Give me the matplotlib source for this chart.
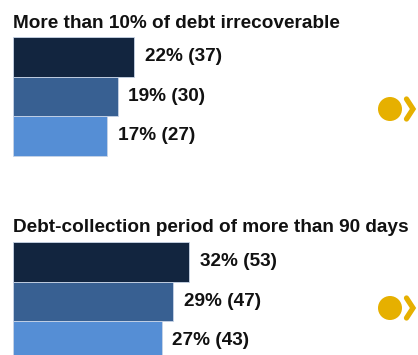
import matplotlib
matplotlib.use("Agg")
import matplotlib.pyplot as plt
from matplotlib.patches import Circle
from matplotlib.lines import Line2D

# Data
panel_titles = ["More than 10% of debt irrecoverable",
                "Debt-collection period of more than 90 days"]
panel_pcts = [[22, 19, 17], [32, 29, 27]]
panel_counts = [[37, 30, 27], [53, 47, 43]]
bar_colors = ["#12253F", "#386092", "#558ED5"]
marker_color = "#E6B000"

plt.rcParams["font.family"] = ["Liberation Sans Narrow", "Liberation Sans", "DejaVu Sans"]

W, H = 418, 355
fig = plt.figure(figsize=(W / 100, H / 100), dpi=100)
fig.patch.set_facecolor("white")

PX_PER_PCT = 5.5
LEFT = 13
panel_tops = [37, 242]     # pixel y of top of first bar
title_base = [28, 232]     # pixel y of title baseline
bar_h = 39.5
FS = 13.7


def px_axes(x0, y0, w, h):
    # pixel box with origin at top-left
    return fig.add_axes([x0 / W, (H - y0 - h) / H, w / W, h / H])


for p in range(2):
    h = bar_h * 3
    ax = px_axes(LEFT, panel_tops[p], W - LEFT, h)
    ax.set_xlim(0, (W - LEFT) / PX_PER_PCT)
    ax.set_ylim(2.5, -0.5)
    ax.axis("off")
    ys = list(range(len(panel_pcts[p])))
    ax.barh(ys, panel_pcts[p], height=1.0, color=bar_colors,
            edgecolor="#C8D4E6", linewidth=0.6, clip_on=False)
    for y, v, c in zip(ys, panel_pcts[p], panel_counts[p]):
        ax.text(v + 11 / PX_PER_PCT, y, f"{v}% ({c})", va="center", ha="left",
                fontsize=FS, fontweight="bold", color="#111111")
    fig.text(LEFT / W, 1 - title_base[p] / H, panel_titles[p], ha="left", va="baseline",
             fontsize=FS, fontweight="bold", color="#111111")

# decorative yellow markers on the right
over = fig.add_axes([0, 0, 1, 1])
over.set_xlim(0, W)
over.set_ylim(H, 0)
over.axis("off")
for cy in [109, 308]:
    over.add_patch(Circle((390, cy), 12, color=marker_color, lw=0))
    over.add_line(Line2D([406.5, 413, 406.5], [cy - 10, cy, cy + 10], color=marker_color,
                         linewidth=3.8, solid_capstyle="round", solid_joinstyle="miter"))

fig.savefig("out.png", dpi=100, facecolor="white")
